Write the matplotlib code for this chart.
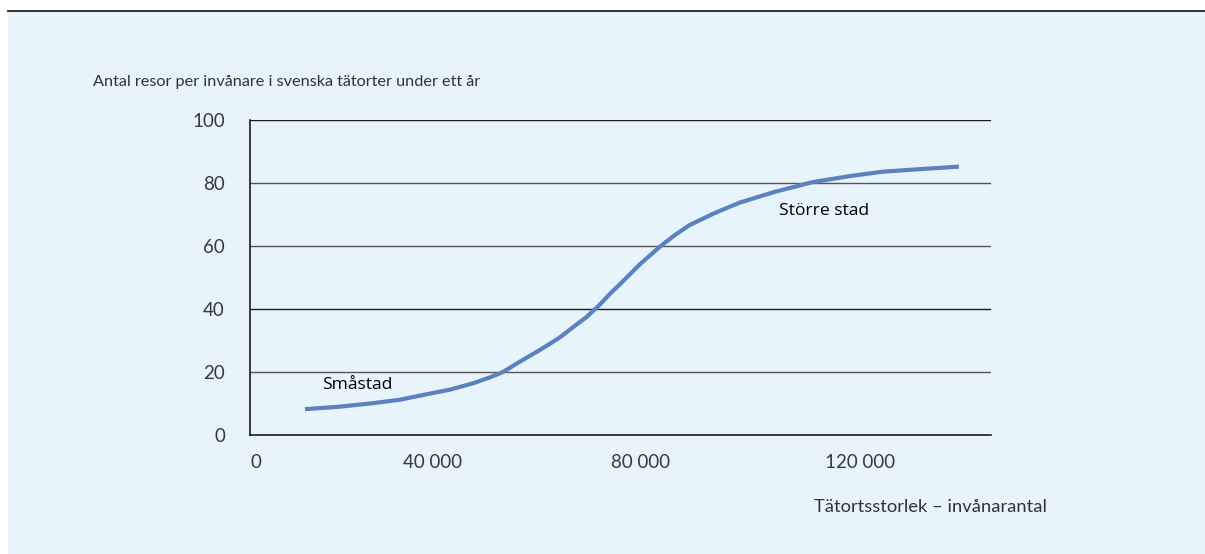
import matplotlib.pyplot as plt
from matplotlib.patches import Rectangle
from matplotlib.lines import Line2D

# Data
population = [10980, 17970, 24560, 29960, 34550, 39940, 44530, 47930, 50520,
              53920, 57910, 61910, 64500, 67100, 69500, 71890, 74490, 77880,
              81880, 84870, 87870, 92860, 97850, 104840, 112430, 119820,
              126410, 133800, 141590]
trips = [8.2, 9.0, 10.1, 11.2, 12.7, 14.4, 16.4, 18.3, 20.0,
         23.3, 27.0, 31.0, 34.2, 37.3, 40.8, 44.8, 48.8, 54.2,
         59.8, 63.5, 66.7, 70.5, 73.8, 77.2, 80.3, 82.2,
         83.6, 84.4, 85.2]

x_tick_pos = [1200, 36500, 78000, 121800]
x_tick_labels = ["0", "40 000", "80 000", "120 000"]
y_ticks = [0, 20, 40, 60, 80, 100]

bg = "#e7f4fc"
line_color = "#5b82bf"
text_color = "#333333"

fig = plt.figure(figsize=(12.05, 5.54), dpi=100)
fig.patch.set_facecolor("white")

# light blue panel with a dark rule on top
fig.patches.append(Rectangle((8 / 1205, 0), 1, 1 - 11 / 554,
                             transform=fig.transFigure, color=bg, zorder=-10))
fig.lines.append(Line2D([8 / 1205, 1], [1 - 10.5 / 554] * 2,
                        transform=fig.transFigure, color="#222222", lw=1.3,
                        zorder=-5))

ax = fig.add_axes([250 / 1205, 1 - 435 / 554, 741 / 1205, 315 / 554])
ax.patch.set_alpha(0)

ax.plot(population, trips, color=line_color, lw=3, solid_capstyle="butt",
        solid_joinstyle="round", zorder=3)

ax.set_xlim(0, 148000)
ax.set_ylim(0, 100)

for y in y_ticks[1:]:
    ax.axhline(y, color="#1a1a1a" if y in (40, 100) else "#555555",
               lw=1, zorder=1)

for side in ["top", "right"]:
    ax.spines[side].set_visible(False)
for side in ["left", "bottom"]:
    ax.spines[side].set_color("#1a1a1a")
    ax.spines[side].set_linewidth(1.2)

ax.set_yticks(y_ticks)
ax.set_yticklabels([str(v) for v in y_ticks])
ax.set_xticks(x_tick_pos)
ax.set_xticklabels(x_tick_labels)
ax.tick_params(length=0, labelsize=13.5, labelcolor="#3a3a3a")
ax.tick_params(axis="y", pad=18)
ax.tick_params(axis="x", pad=14)
for lab in ax.get_xticklabels() + ax.get_yticklabels():
    lab.set_fontfamily("Lato")

fig.text(93 / 1205, 1 - 82 / 554,
         "Antal resor per invånare i svenska tätorter under ett år",
         fontsize=11.7, family="Lato", color=text_color, va="center")
fig.text(814 / 1205, 1 - 507 / 554, "Tätortsstorlek – invånarantal",
         fontsize=13.2, family="Lato", color=text_color, va="center")

ax.text(14300, 16, "Småstad", fontsize=12.6, family="Open Sans",
        color="black", va="center")
ax.text(105700, 71, "Större stad", fontsize=12.6, family="Open Sans",
        color="black", va="center")

fig.savefig("out.png", dpi=100, facecolor=fig.get_facecolor())
